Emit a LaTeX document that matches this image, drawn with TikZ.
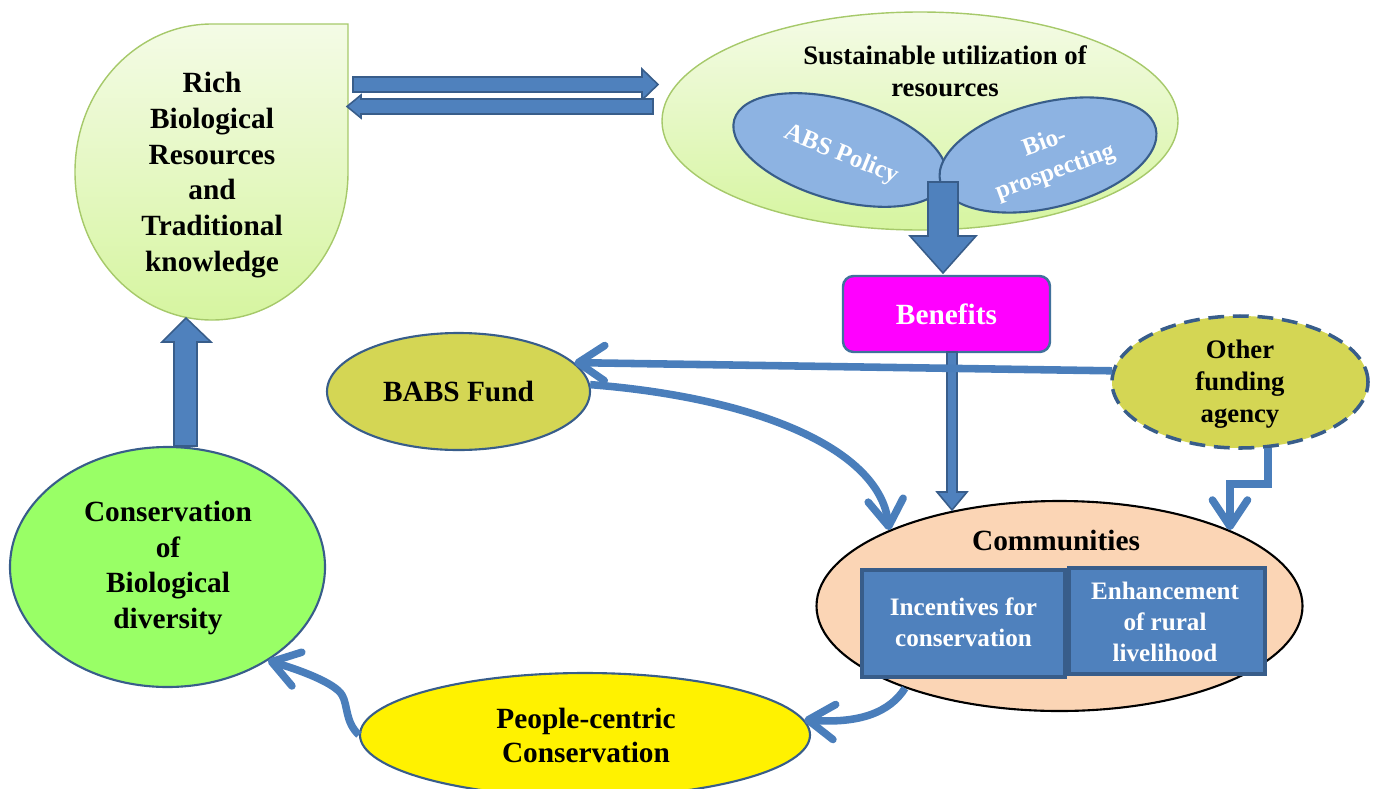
\documentclass[tikz,border=0pt]{standalone}
\usepackage{fontspec}
\setmainfont{Liberation Serif}
\usetikzlibrary{shapes.geometric,arrows.meta}
\definecolor{arrowblue}{RGB}{79,129,189}
\definecolor{arrowdark}{RGB}{56,93,138}
\definecolor{linkblue}{RGB}{74,126,187}
\definecolor{leafblue}{RGB}{141,179,226}
\definecolor{lgtop}{RGB}{244,251,230}
\definecolor{lgbot}{RGB}{214,245,160}
\definecolor{lgborder}{RGB}{166,201,106}
\definecolor{olivefill}{RGB}{212,214,84}
\definecolor{consgreen}{RGB}{153,255,102}
\definecolor{peach}{RGB}{251,213,181}
\definecolor{benefitfill}{RGB}{255,0,255}
\definecolor{benborder}{RGB}{65,113,156}
\newcommand{\pxu}{0.02cm}
\begin{document}
\begin{tikzpicture}[x=0.02cm,y=-0.02cm,
  txt/.style={font=\bfseries\fontsize{16.7}{20.4}\selectfont, align=center, inner sep=0pt},
  midtxt/.style={font=\bfseries\fontsize{15.2}{18.1}\selectfont, align=center, inner sep=0pt},
  smalltxt/.style={font=\bfseries\fontsize{14.3}{17.6}\selectfont, align=center, inner sep=0pt, text=white},
  oval/.style={ellipse, inner sep=0pt},
  blockarrow/.style={fill=arrowblue, draw=arrowdark, line width=0.9pt, line join=miter},
  conn/.style={draw=linkblue, line width=4.3pt, -{Straight Barb[length=15pt,width=20pt,line cap=round,line join=round]}},
  innerbox/.style={fill=arrowblue, draw=arrowdark, line width=1.8pt, inner sep=0pt}
]
\useasboundingbox (0,0) rectangle (1375,788);

% Rich biological resources (teardrop)
\path[draw=lgborder, line width=0.8pt, top color=lgtop, bottom color=lgbot]
  (348,24) -- (348,172) .. controls (348,254) and (288,320) .. (212,320)
  .. controls (136,320) and (75,254) .. (75,172)
  .. controls (75,90) and (136,24) .. (212,24) -- cycle;
\node[txt] (rich) at (212,175) {Rich\\Biological\\Resources\\and\\Traditional\\knowledge};

% Sustainable utilization
\node[oval, draw=lgborder, line width=0.8pt, top color=lgtop, bottom color=lgbot,
  minimum width=516*\pxu, minimum height=218*\pxu] (sus) at (920,121) {};
\node[midtxt] (sustxt) at (945,71) {Sustainable utilization of\\resources};
\node[oval, draw=arrowdark, line width=1.2pt, fill=leafblue,
  minimum width=220*\pxu, minimum height=100*\pxu, rotate=-16] (abs) at (840,150) {};
\node[oval, draw=arrowdark, line width=1.2pt, fill=leafblue,
  minimum width=222*\pxu, minimum height=105*\pxu, rotate=14] (bio) at (1048,155) {};
\node[smalltxt, rotate=-22] (abstxt) at (841,155) {ABS Policy};
\node[smalltxt, rotate=20] (biotxt) at (1050,158) {Bio-\\prospecting};

% double block arrows
\path[blockarrow] (353,77) -- (642,77) -- (642,69) -- (658,84.5) -- (642,100) -- (642,92) -- (353,92) -- cycle;
\path[blockarrow] (653,99) -- (361,99) -- (361,95) -- (347,106.5) -- (361,118) -- (361,114) -- (653,114) -- cycle;

% Benefits
\node[txt, text=white, draw=benborder, line width=1.4pt, fill=benefitfill, rounded corners=6pt,
  minimum width=207*\pxu, minimum height=76*\pxu] (ben) at (946.5,314) {Benefits};

% stem arrow
\path[blockarrow] (928,182) -- (958,182) -- (958,236) -- (976,236) -- (943,273) -- (910,236) -- (928,236) -- cycle;

% BABS Fund
\node[oval, txt, draw=arrowdark, line width=1.2pt, fill=olivefill,
  minimum width=263*\pxu, minimum height=117*\pxu] (babs) at (458.5,391.5) {BABS Fund};

% Other funding agency
\node[oval, draw=arrowdark, line width=2pt, dash pattern=on 9pt off 5pt, fill=olivefill,
  minimum width=256*\pxu, minimum height=132*\pxu] (other) at (1240,382) {};
\node[midtxt] (othertxt) at (1240,384) {Other\\funding\\agency};

% Communities
\node[oval, draw=black, line width=1.2pt, fill=peach,
  minimum width=486*\pxu, minimum height=210*\pxu] (comm) at (1059.5,606) {};
\node[txt] (commtxt) at (1056,540) {Communities};
\node[innerbox, minimum width=203*\pxu, minimum height=107*\pxu] (inc) at (963.5,623.5) {};
\node[smalltxt] (inctxt) at (963.5,622.5) {Incentives for\\conservation};
\node[innerbox, minimum width=196*\pxu, minimum height=106*\pxu] (enh) at (1167,621) {};
\node[smalltxt] (enhtxt) at (1165,622) {Enhancement\\of rural\\livelihood};

% People-centric
\node[oval, draw=arrowdark, line width=1.2pt, fill=yellow,
  minimum width=450*\pxu, minimum height=124*\pxu] (people) at (585,735) {};
\node[txt, font=\bfseries\fontsize{16.7}{19.3}\selectfont] (peopletxt) at (586,735) {People-centric\\Conservation};

% Conservation of biological diversity
\node[oval, draw=arrowdark, line width=1.2pt, fill=consgreen,
  minimum width=315*\pxu, minimum height=240*\pxu] (cons) at (167.5,567) {};
\node[txt] (constxt) at (168,568) {Conservation\\of\\Biological\\diversity};

% up block arrow
\path[blockarrow] (174,446) -- (174,342) -- (162,342) -- (186,318) -- (211,342) -- (197,342) -- (197,446) -- cycle;

% Benefits -> Communities block arrow
\path[blockarrow] (947,352) -- (957,352) -- (957,492) -- (967,492) -- (952,510) -- (937,492) -- (947,492) -- cycle;

% connectors
\draw[conn] (other.175) -- (babs.14);
\draw[conn] (babs.3) .. controls (760,398) and (880,450) .. (comm.156);
\draw[conn] (other.-67) -- ++(0,36) -| (comm.24);
\draw[conn] (comm.-152) .. controls (890,712) and (860,724) .. (people.4);
\draw[conn] (people.west) .. controls (345,722) and (348,705) .. (342,695)
  .. controls (335,683) and (300,670) .. (cons.-43);
\end{tikzpicture}
\end{document}
